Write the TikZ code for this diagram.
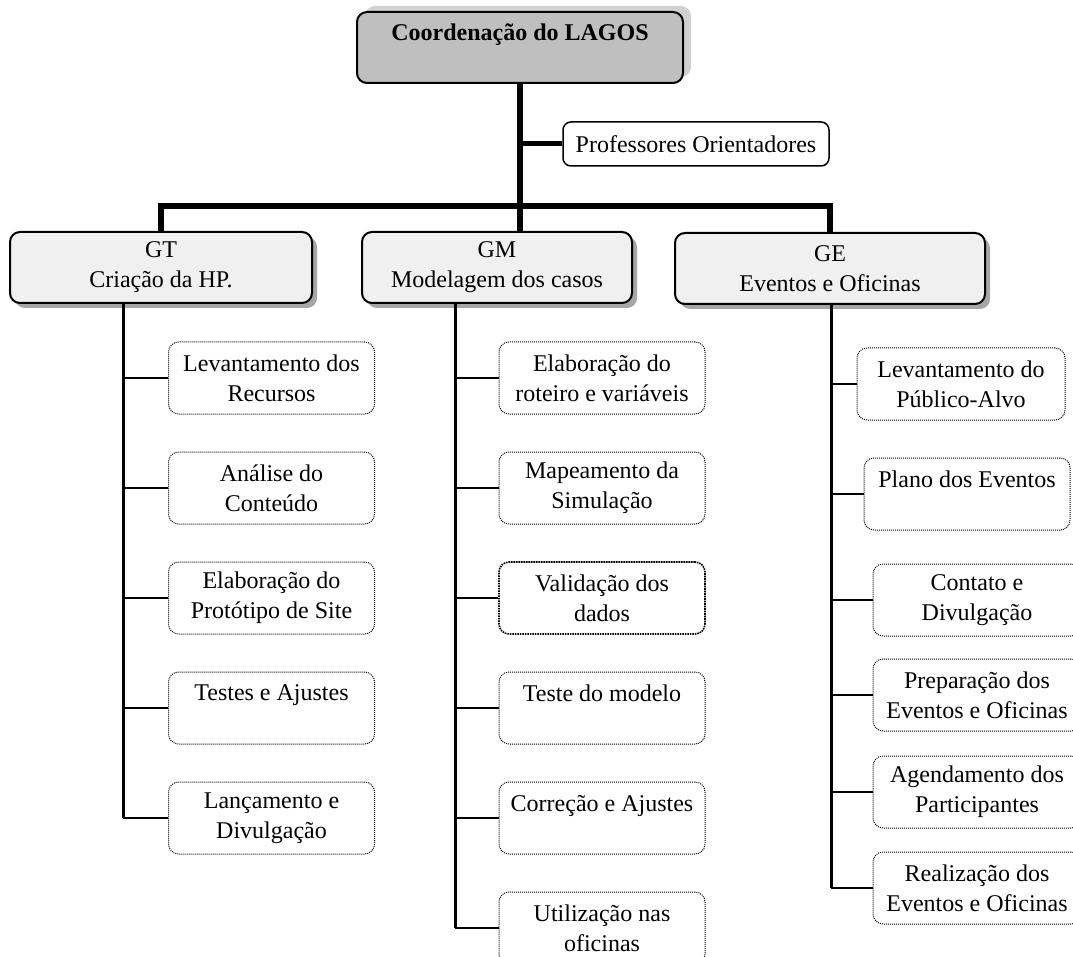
\documentclass[tikz,border=0pt]{standalone}
\usepackage{fontspec}
\setmainfont{Liberation Serif}
\usetikzlibrary{shadows}

\begin{document}
\begin{tikzpicture}[x=1pt,y=-1pt,
	every node/.style={font=\fontsize{24}{30}\selectfont,align=center,inner sep=0pt},
	head/.style={draw,line width=2,rounded corners=10,fill=black!25,minimum width=326,minimum height=71,font=\fontsize{24}{30}\selectfont\bfseries,drop shadow={shadow xshift=8pt,shadow yshift=6pt,fill=black!18,opacity=1}},
	group/.style={draw,line width=2,rounded corners=10,fill=black!6,minimum height=71,drop shadow={shadow xshift=5pt,shadow yshift=-5pt,fill=black!35,opacity=1}},
	advisor/.style={draw,line width=1.5,rounded corners=8,fill=white,minimum width=266,minimum height=44},
	leaf/.style={draw,line width=1,dash pattern=on 1pt off 1pt,rounded corners=10,minimum width=206,minimum height=72},
	bus/.style={line width=6},
	trunk/.style={line width=3},
	branch/.style={line width=2}]
	\useasboundingbox (0,0) rectangle (1073,957);
	\draw (520,47.5) node(top) [head] {Coordenação do LAGOS\\\mbox{}};
	\draw (696,144) node(prof) [advisor] {Professores Orientadores};
	\draw (161,267.5) node(gt) [group,minimum width=302] {GT\\Criação da HP.};
	\draw (497,267.5) node(gm) [group,minimum width=270] {GM\\Modelagem dos casos};
	\draw (830,268.5) node(ge) [group,minimum width=310] {GE\\Eventos e Oficinas};
	\coordinate (busy) at (520,206);
	\coordinate (gtx) at (123,303);
	\coordinate (gmx) at (455,303);
	\coordinate (gex) at (831,304);
	\draw (271.5,378) node(gt1) [leaf] {Levantamento dos\\Recursos};
	\draw (271.5,488) node(gt2) [leaf] {Análise do\\Conteúdo};
	\draw (271.5,598) node(gt3) [leaf] {Elaboração do\\Protótipo de Site};
	\draw (271.5,708) node(gt4) [leaf] {Testes e Ajustes\\\mbox{}};
	\draw (271.5,818) node(gt5) [leaf] {Lançamento e\\Divulgação};
	\draw (602,378) node(gm1) [leaf] {Elaboração do\\roteiro e variáveis};
	\draw (602,488) node(gm2) [leaf] {Mapeamento da\\Simulação};
	\draw (602,598) node(gm3) [leaf,line width=1.6,dash pattern=on 1.6pt off 0.9pt] {Validação dos\\dados};
	\draw (602,708) node(gm4) [leaf] {Teste do modelo\\\mbox{}};
	\draw (602,818) node(gm5) [leaf] {Correção e Ajustes\\\mbox{}};
	\draw (602,928) node(gm6) [leaf] {Utilização nas\\oficinas};
	\draw (961,384) node(ge1) [leaf,minimum width=208] {Levantamento do\\Público-Alvo};
	\draw (967,494) node(ge2) [leaf] {Plano dos Eventos\\\mbox{}};
	\draw (977,600) node(ge3) [leaf,minimum width=208] {Contato e\\Divulgação};
	\draw (977,695) node(ge4) [leaf,minimum width=208] {Preparação dos\\Eventos e Oficinas};
	\draw (977,792) node(ge5) [leaf,minimum width=208] {Agendamento dos\\Participantes};
	\draw (977,888) node(ge6) [leaf,minimum width=208] {Realização dos\\Eventos e Oficinas};
	\draw[bus] (top.south) -- (top.south |- gm.north);
	\draw[bus,line width=5] (prof.west) -- (prof.west -| top.south);
	\draw[bus] (gt.north) |- (busy) -| (ge.north);
	\draw[trunk] (gtx) -- (gtx |- gt5.west);
	\draw[trunk] (gmx) -- (gmx |- gm6.west);
	\draw[trunk] (gex) -- (gex |- ge6.west);
	\draw[branch] (gt1.west) -- (gt1.west -| gtx);
	\draw[branch] (gt2.west) -- (gt2.west -| gtx);
	\draw[branch] (gt3.west) -- (gt3.west -| gtx);
	\draw[branch] (gt4.west) -- (gt4.west -| gtx);
	\draw[branch] (gt5.west) -- (gt5.west -| gtx);
	\draw[branch] (gm1.west) -- (gm1.west -| gmx);
	\draw[branch] (gm2.west) -- (gm2.west -| gmx);
	\draw[branch] (gm3.west) -- (gm3.west -| gmx);
	\draw[branch] (gm4.west) -- (gm4.west -| gmx);
	\draw[branch] (gm5.west) -- (gm5.west -| gmx);
	\draw[branch] (gm6.west) -- (gm6.west -| gmx);
	\draw[branch] (ge1.west) -- (ge1.west -| gex);
	\draw[branch] (ge2.west) -- (ge2.west -| gex);
	\draw[branch] (ge3.west) -- (ge3.west -| gex);
	\draw[branch] (ge4.west) -- (ge4.west -| gex);
	\draw[branch] (ge5.west) -- (ge5.west -| gex);
	\draw[branch] (ge6.west) -- (ge6.west -| gex);
\end{tikzpicture}
\end{document}
